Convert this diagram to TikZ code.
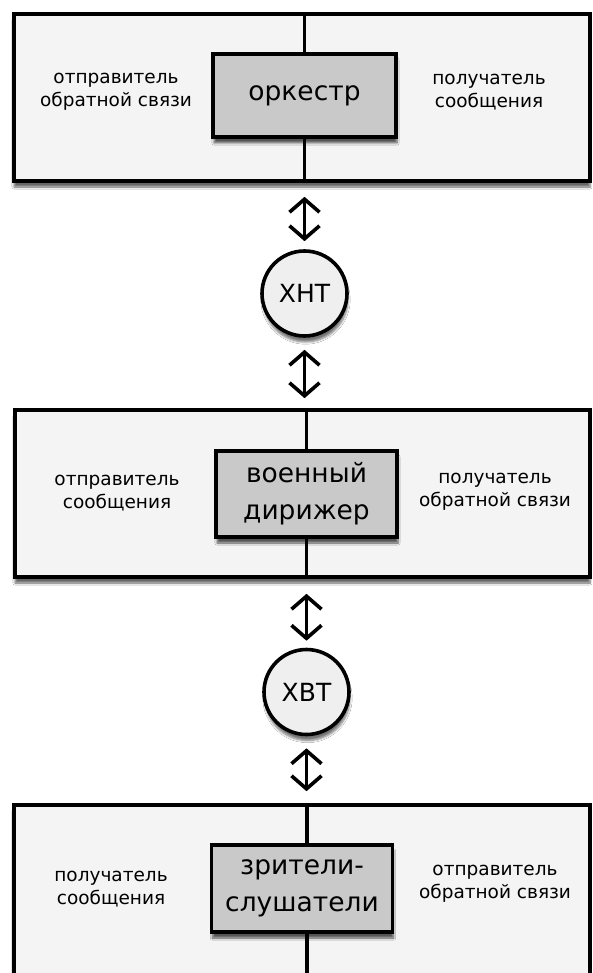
\documentclass[tikz,border=0pt]{standalone}
\usepackage{fontspec}
\setmainfont{DejaVu Sans}
\usetikzlibrary{arrows.meta,shadows.blur}

\definecolor{panel}{HTML}{F4F4F4}
\definecolor{keybox}{HTML}{C9C9C9}
\definecolor{disc}{HTML}{EFEFEF}

\tikzset{
  x=1pt, y=1pt,
  panelbox/.style={draw=black, line width=3.6pt, fill=panel, inner sep=0pt,
    blur shadow={shadow xshift=0pt, shadow yshift=-6pt, shadow blur steps=6, shadow opacity=60}},
  rolebox/.style={draw=black, line width=3.6pt, fill=keybox, inner sep=0pt, align=center,
    font=\fontsize{26.5}{37}\selectfont,
    blur shadow={shadow xshift=1pt, shadow yshift=-6pt, shadow blur steps=6, shadow opacity=65}},
  channel/.style={circle, draw=black, line width=3.6pt, fill=disc, inner sep=0pt,
    minimum size=85pt, font=\fontsize{25}{28}\selectfont,
    blur shadow={shadow xshift=1pt, shadow yshift=-6pt, shadow blur steps=6, shadow opacity=55}},
  sidelabel/.style={align=center, font=\fontsize{18.5}{23}\selectfont, inner sep=0pt},
  axis/.style={line width=3.6pt},
  barb/.tip={Straight Barb[length=13pt,width=30pt,line width=3.6pt]},
  twoway/.style={line width=3.6pt, {barb}-{barb}}
}

\begin{document}
\begin{tikzpicture}
\useasboundingbox (0,0) rectangle (592,-973);
\clip (0,0) rectangle (592,-973);
\fill[white] (0,0) rectangle (592,-973);

% upper panel: orchestra
\node[panelbox, minimum width=576pt, minimum height=167pt] (ob1) at (302,-97.5) {};
\node[rolebox, minimum width=183pt, minimum height=83pt] (ib1) at (304.5,-95.5) {оркестр};
\draw[axis] (ob1.north -| ib1.center) -- (ib1.north);
\draw[axis] (ib1.south) -- (ob1.south -| ib1.center);
\node[sidelabel] (l1) at (116,-92) {отправитель\\обратной связи};
\node[sidelabel] (r1) at (489,-92) {получатель\\сообщения};

% middle panel: military conductor
\node[panelbox, minimum width=575pt, minimum height=167pt] (ob2) at (302.5,-493.5) {};
\node[rolebox, minimum width=181pt, minimum height=86pt] (ib2) at (306.5,-494) {военный\\дирижер};
\draw[axis] (ob2.north -| ib2.center) -- (ib2.north);
\draw[axis] (ib2.south) -- (ob2.south -| ib2.center);
\node[sidelabel] (l2) at (117,-493) {отправитель\\сообщения};
\node[sidelabel] (r2) at (495,-492) {получатель\\обратной связи};

% lower panel: audience
\node[panelbox, minimum width=576pt, minimum height=190pt] (ob3) at (302,-900) {};
\node[rolebox, minimum width=181pt, minimum height=87pt] (ib3) at (302,-888.5) {зрители-\\слушатели};
\coordinate (ax3) at (307,-888.5);
\draw[axis] (ob3.north -| ax3) -- (ib3.north -| ax3);
\draw[axis] (ib3.south -| ax3) -- (ob3.south -| ax3);
\node[sidelabel] (l3) at (111,-889) {получатель\\сообщения};
\node[sidelabel] (r3) at (495,-884) {отправитель\\обратной связи};

% noise channels
\node[channel] (c1) at (304.5,-293.5) {ХНТ};
\node[channel] (c2) at (306.5,-692) {ХВТ};

\draw[twoway, shorten <=14pt, shorten >=8pt] (ob1.south -| c1) -- (c1.north);
\draw[twoway, shorten <=12pt, shorten >=10pt] (c1.south) -- (ob2.north -| c1);
\draw[twoway, shorten <=15pt, shorten >=7pt] (ob2.south -| c2) -- (c2.north);
\draw[twoway, shorten <=12pt, shorten >=12pt] (c2.south) -- (ob3.north -| c2);
\end{tikzpicture}
\end{document}
